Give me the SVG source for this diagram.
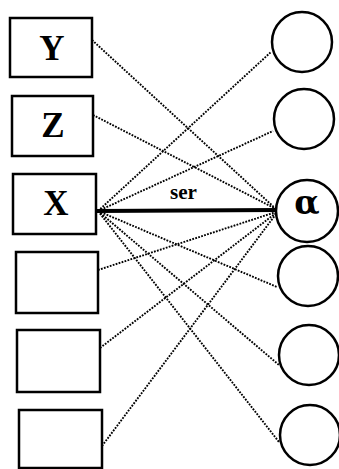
<svg xmlns="http://www.w3.org/2000/svg" width="339" height="469" viewBox="0 0 339 469">
<style>
.box{fill:#fff;stroke:#000;stroke-width:2.5}
.circ{fill:#fff;stroke:#000;stroke-width:2.5}
.dot{fill:none;stroke:#000;stroke-width:1.9;stroke-dasharray:1.8 1.3}
.thick{fill:none;stroke:#000;stroke-width:4}
.lbl{font-family:"Liberation Serif",serif;font-weight:bold;font-size:35px;text-anchor:middle}
.ser{font-family:"Liberation Serif",serif;font-size:20px;font-weight:bold}
</style>
<rect width="339" height="469" fill="#fff"/>
<g id="connectors">
<line class="dot" x1="92" y1="40" x2="276" y2="209"/>
<line class="dot" x1="93" y1="115" x2="276" y2="209"/>
<line class="dot" x1="98" y1="211" x2="271" y2="52"/>
<line class="dot" x1="98" y1="211" x2="273" y2="131"/>
<line class="dot" x1="98" y1="211" x2="277" y2="287"/>
<line class="dot" x1="98" y1="211" x2="279" y2="365"/>
<line class="dot" x1="98" y1="211" x2="279" y2="442"/>
<line class="dot" x1="98" y1="270" x2="276" y2="212"/>
<line class="dot" x1="100" y1="348" x2="276" y2="213"/>
<line class="dot" x1="102" y1="446" x2="276" y2="214"/>
<line class="thick" x1="96" y1="211" x2="277" y2="210"/>
<text class="ser" x="170" y="199" textLength="27" lengthAdjust="spacingAndGlyphs">ser</text>
</g>
<g id="nodeY"><rect class="box" x="10" y="18" width="82" height="59"/><text class="lbl" x="52" y="60">Y</text></g>
<g id="nodeZ"><rect class="box" x="12" y="96" width="81" height="60"/><text class="lbl" x="53" y="137">Z</text></g>
<g id="nodeX"><rect class="box" x="13" y="174" width="83" height="60"/><text class="lbl" x="56" y="215">X</text></g>
<g id="box4"><rect class="box" x="16" y="252" width="82" height="61"/></g>
<g id="box5"><rect class="box" x="17" y="330" width="83" height="62"/></g>
<g id="box6"><rect class="box" x="19" y="410" width="83" height="58"/></g>
<g id="c1"><circle class="circ" cx="302" cy="42" r="30"/></g>
<g id="c2"><circle class="circ" cx="304" cy="119" r="30"/></g>
<g id="alpha"><circle class="circ" cx="307" cy="211" r="31"/><text x="307" y="214" font-family="'DejaVu Serif',serif" font-size="33" font-weight="bold" text-anchor="middle">α</text></g>
<g id="c4"><circle class="circ" cx="308" cy="276" r="30"/></g>
<g id="c5"><circle class="circ" cx="309" cy="355" r="30"/></g>
<g id="c6"><circle class="circ" cx="310" cy="435" r="30"/></g>
</svg>
